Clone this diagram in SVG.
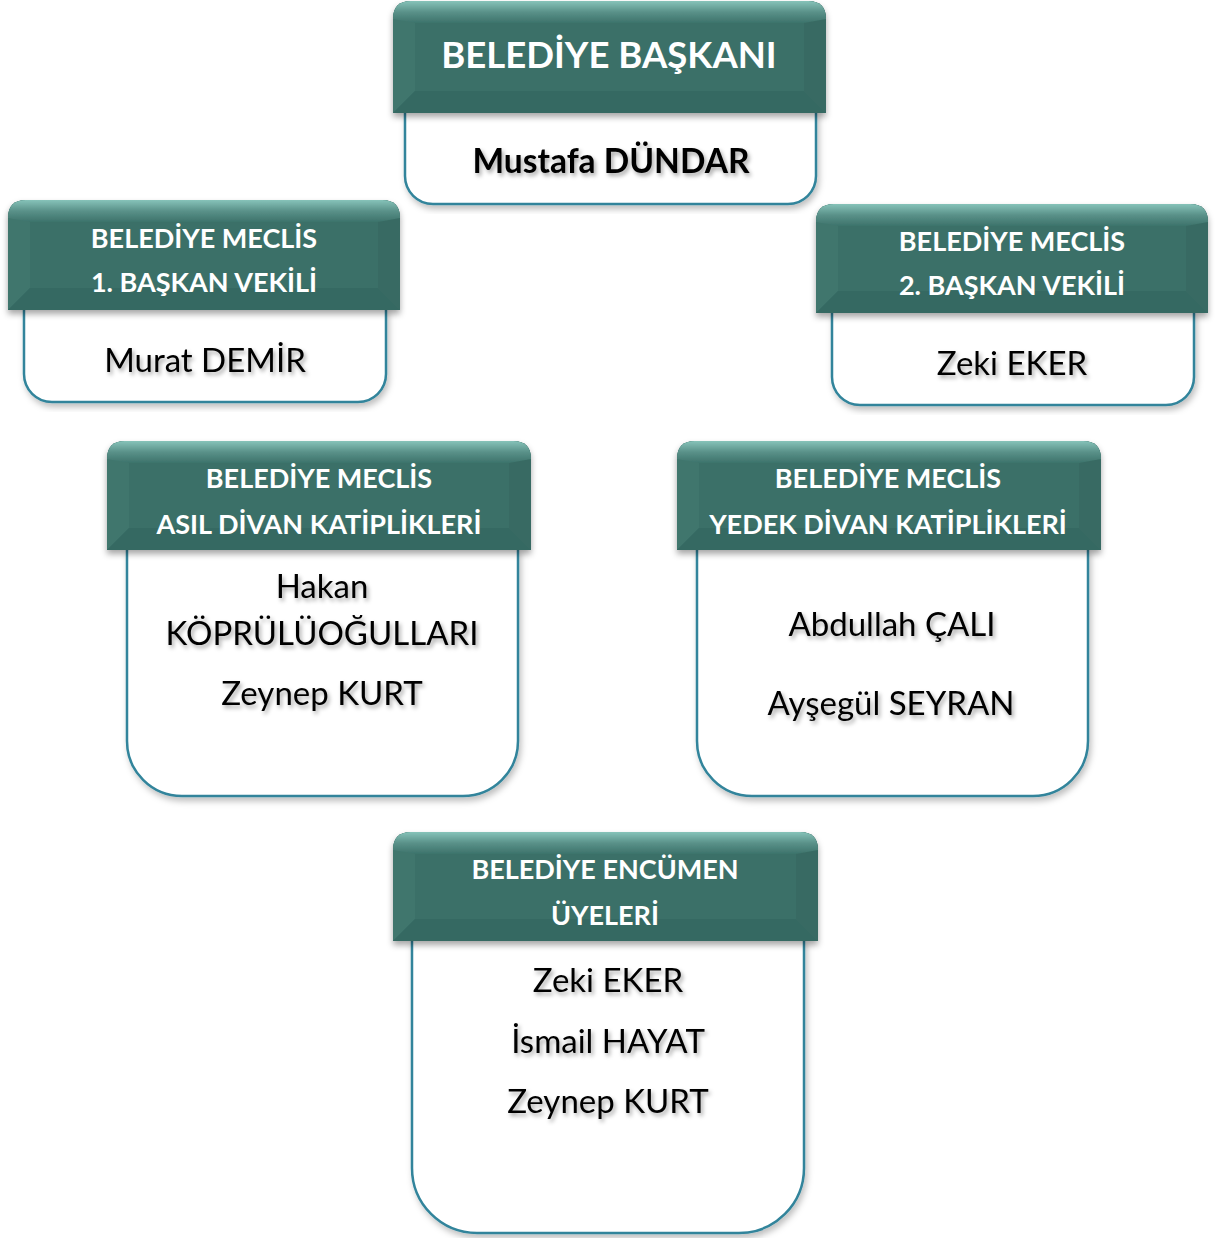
<svg xmlns="http://www.w3.org/2000/svg" width="1215" height="1238" viewBox="0 0 1215 1238">
<defs>
<linearGradient id="topFacet" x1="0" y1="0" x2="0" y2="1">
<stop offset="0" stop-color="#86c3b9"/>
<stop offset="0.5" stop-color="#5a9189"/>
<stop offset="1" stop-color="#3d736b"/>
</linearGradient>
<filter id="hdrShadow" x="-5%" y="-5%" width="110%" height="125%">
<feDropShadow dx="0" dy="4" stdDeviation="3" flood-color="#000" flood-opacity="0.35"/>
</filter>
<filter id="bodyShadow" x="-5%" y="-5%" width="112%" height="115%">
<feDropShadow dx="2" dy="4" stdDeviation="3" flood-color="#000" flood-opacity="0.25"/>
</filter>
<filter id="txtShadow" x="-10%" y="-30%" width="120%" height="170%">
<feDropShadow dx="2" dy="3" stdDeviation="2" flood-color="#000" flood-opacity="0.35"/>
</filter>
</defs>
<style>
.body{fill:#fff;stroke:#31849b;stroke-width:2.5}
.hdr{fill:#3a7068}
.lf{fill:#3f766d}
.rf{fill:#376b63}
.bf{fill:#366962}
.ht{font-family:Lato,"Liberation Sans",sans-serif;font-weight:700;fill:#fff;text-anchor:middle;font-size:27px}
.nt{font-family:Lato,"Liberation Sans",sans-serif;fill:#000;text-anchor:middle;filter:url(#txtShadow);font-size:33px}
</style>

<g id="connectors"></g>

<!-- Node 1 -->
<g id="node-baskan">
<path class="body" filter="url(#bodyShadow)" d="M405,110 V176 A28,28 0 0 0 433,204 H788 A28,28 0 0 0 816,176 V110"/>
<g filter="url(#hdrShadow)">
<path class="hdr" d="M393,113 V19 Q393,1 411,1 H808 Q826,1 826,19 V113 Z"/>
<path class="lf" d="M393,19 Q393,1 411,1 L415,23 V91 L393,113 Z"/>
<path class="rf" d="M826,19 Q826,1 808,1 L804,23 V91 L826,113 Z"/>
<path class="bf" d="M393,113 L415,91 H804 L826,113 Z"/>
<path fill="url(#topFacet)" d="M393,19 Q393,1 411,1 H808 Q826,1 826,19 L804,23 H415 Z"/>
<path class="hdr" d="M415,23 H804 V91 H415 Z"/>
</g>
<text class="ht" x="609" y="68" style="font-size:36.5px">BELEDİYE BAŞKANI</text>
<text class="nt" x="611" y="173" style="font-size:33.5px" font-weight="700">Mustafa DÜNDAR</text>
</g>

<!-- Node 2 -->
<g id="node-vekil1">
<path class="body" filter="url(#bodyShadow)" d="M24,307 V374 A28,28 0 0 0 52,402 H358 A28,28 0 0 0 386,374 V307"/>
<g filter="url(#hdrShadow)">
<path class="hdr" d="M8,310 V218 Q8,200 26,200 H382 Q400,200 400,218 V310 Z"/>
<path class="lf" d="M8,218 Q8,200 26,200 L30,222 V288 L8,310 Z"/>
<path class="rf" d="M400,218 Q400,200 382,200 L378,222 V288 L400,310 Z"/>
<path class="bf" d="M8,310 L30,288 H378 L400,310 Z"/>
<path fill="url(#topFacet)" d="M8,218 Q8,200 26,200 H382 Q400,200 400,218 L378,222 H30 Z"/>
<path class="hdr" d="M30,222 H378 V288 H30 Z"/>
</g>
<text class="ht" x="204" y="248">BELEDİYE MECLİS</text>
<text class="ht" x="204" y="292">1. BAŞKAN VEKİLİ</text>
<text class="nt" x="205" y="372">Murat DEMİR</text>
</g>

<!-- Node 3 -->
<g id="node-vekil2">
<path class="body" filter="url(#bodyShadow)" d="M832,310 V377 A28,28 0 0 0 860,405 H1166 A28,28 0 0 0 1194,377 V310"/>
<g filter="url(#hdrShadow)">
<path class="hdr" d="M816,313 V222 Q816,204 834,204 H1190 Q1208,204 1208,222 V313 Z"/>
<path class="lf" d="M816,222 Q816,204 834,204 L838,226 V291 L816,313 Z"/>
<path class="rf" d="M1208,222 Q1208,204 1190,204 L1186,226 V291 L1208,313 Z"/>
<path class="bf" d="M816,313 L838,291 H1186 L1208,313 Z"/>
<path fill="url(#topFacet)" d="M816,222 Q816,204 834,204 H1190 Q1208,204 1208,222 L1186,226 H838 Z"/>
<path class="hdr" d="M838,226 H1186 V291 H838 Z"/>
</g>
<text class="ht" x="1012" y="251">BELEDİYE MECLİS</text>
<text class="ht" x="1012" y="295">2. BAŞKAN VEKİLİ</text>
<text class="nt" x="1012" y="375">Zeki EKER</text>
</g>

<!-- Node 4 -->
<g id="node-asil">
<path class="body" filter="url(#bodyShadow)" d="M127,547 V741 A55,55 0 0 0 182,796 H463 A55,55 0 0 0 518,741 V547"/>
<g filter="url(#hdrShadow)">
<path class="hdr" d="M107,550 V459 Q107,441 125,441 H513 Q531,441 531,459 V550 Z"/>
<path class="lf" d="M107,459 Q107,441 125,441 L129,463 V528 L107,550 Z"/>
<path class="rf" d="M531,459 Q531,441 513,441 L509,463 V528 L531,550 Z"/>
<path class="bf" d="M107,550 L129,528 H509 L531,550 Z"/>
<path fill="url(#topFacet)" d="M107,459 Q107,441 125,441 H513 Q531,441 531,459 L509,463 H129 Z"/>
<path class="hdr" d="M129,463 H509 V528 H129 Z"/>
</g>
<text class="ht" x="319" y="488">BELEDİYE MECLİS</text>
<text class="ht" x="319" y="534">ASIL DİVAN KATİPLİKLERİ</text>
<text class="nt" x="322" y="598">Hakan</text>
<text class="nt" x="322" y="645">KÖPRÜLÜOĞULLARI</text>
<text class="nt" x="322" y="705">Zeynep KURT</text>
</g>

<!-- Node 5 -->
<g id="node-yedek">
<path class="body" filter="url(#bodyShadow)" d="M697,547 V741 A55,55 0 0 0 752,796 H1033 A55,55 0 0 0 1088,741 V547"/>
<g filter="url(#hdrShadow)">
<path class="hdr" d="M677,550 V459 Q677,441 695,441 H1083 Q1101,441 1101,459 V550 Z"/>
<path class="lf" d="M677,459 Q677,441 695,441 L699,463 V528 L677,550 Z"/>
<path class="rf" d="M1101,459 Q1101,441 1083,441 L1079,463 V528 L1101,550 Z"/>
<path class="bf" d="M677,550 L699,528 H1079 L1101,550 Z"/>
<path fill="url(#topFacet)" d="M677,459 Q677,441 695,441 H1083 Q1101,441 1101,459 L1079,463 H699 Z"/>
<path class="hdr" d="M699,463 H1079 V528 H699 Z"/>
</g>
<text class="ht" x="888" y="488">BELEDİYE MECLİS</text>
<text class="ht" x="888" y="534">YEDEK DİVAN KATİPLİKLERİ</text>
<text class="nt" x="892" y="636">Abdullah ÇALI</text>
<text class="nt" x="891" y="715">Ayşegül SEYRAN</text>
</g>

<!-- Node 6 -->
<g id="node-encumen">
<path class="body" filter="url(#bodyShadow)" d="M412,938 V1168 A65,65 0 0 0 477,1233 H739 A65,65 0 0 0 804,1168 V938"/>
<g filter="url(#hdrShadow)">
<path class="hdr" d="M393,941 V850 Q393,832 411,832 H800 Q818,832 818,850 V941 Z"/>
<path class="lf" d="M393,850 Q393,832 411,832 L415,854 V919 L393,941 Z"/>
<path class="rf" d="M818,850 Q818,832 800,832 L796,854 V919 L818,941 Z"/>
<path class="bf" d="M393,941 L415,919 H796 L818,941 Z"/>
<path fill="url(#topFacet)" d="M393,850 Q393,832 411,832 H800 Q818,832 818,850 L796,854 H415 Z"/>
<path class="hdr" d="M415,854 H796 V919 H415 Z"/>
</g>
<text class="ht" x="605" y="879">BELEDİYE ENCÜMEN</text>
<text class="ht" x="605" y="925">ÜYELERİ</text>
<text class="nt" x="608" y="992">Zeki EKER</text>
<text class="nt" x="608" y="1053">İsmail HAYAT</text>
<text class="nt" x="608" y="1113">Zeynep KURT</text>
</g>
</svg>
